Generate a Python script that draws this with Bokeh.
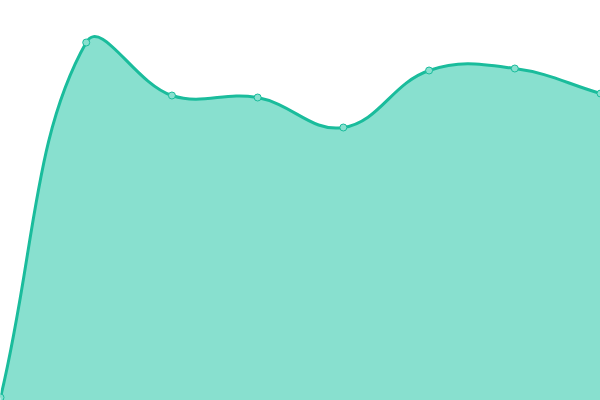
import numpy as np
from bokeh.plotting import figure
from bokeh.models import Range1d
from bokeh.embed import file_html
from bokeh.resources import INLINE

# series (value 0 = bottom edge, 400 = top edge)
labels = ["0", "1", "2", "3", "4", "5", "6", "7"]
values = [3, 358, 305, 303, 273, 330, 332, 307]

W, H = 600, 400
TENSION = 0.4
line_color = "#1abc9c"
fill_color = "#88e0cf"

xs = list(range(len(values)))
p = figure(width=W, height=H, x_range=Range1d(0, len(values) - 1), y_range=Range1d(0, 400),
           output_backend="svg", toolbar_location=None, min_border=0)
p.axis.visible = False
p.grid.visible = False
p.outline_line_color = None

# spline control points (chart.js style), worked out in pixel space
sx = W / (len(values) - 1)
sy = H / 400.0
px = np.array(xs, float) * sx
py = np.array(values, float) * sy
n = len(px)
c_prev = []
c_next = []
for i in range(n):
    a = max(i - 1, 0)
    b = min(i + 1, n - 1)
    d01 = np.hypot(px[i] - px[a], py[i] - py[a])
    d12 = np.hypot(px[b] - px[i], py[b] - py[i])
    tot = d01 + d12
    s01 = d01 / tot if tot else 0
    s12 = d12 / tot if tot else 0
    dx, dy = px[b] - px[a], py[b] - py[a]
    c_prev.append((px[i] - TENSION * s01 * dx, py[i] - TENSION * s01 * dy))
    c_next.append((px[i] + TENSION * s12 * dx, py[i] + TENSION * s12 * dy))

x0 = px[:-1] / sx
y0 = py[:-1] / sy
x1 = px[1:] / sx
y1 = py[1:] / sy
cx0 = np.array([c[0] for c in c_next[:-1]]) / sx
cy0 = np.array([c[1] for c in c_next[:-1]]) / sy
cx1 = np.array([c[0] for c in c_prev[1:]]) / sx
cy1 = np.array([c[1] for c in c_prev[1:]]) / sy

# area under the curve: trace the same bezier segments for the patch outline
t = np.linspace(0, 1, 40)[:, None]
bx = ((1 - t) ** 3 * x0 + 3 * (1 - t) ** 2 * t * cx0 + 3 * (1 - t) * t ** 2 * cx1 + t ** 3 * x1).T.ravel()
by = ((1 - t) ** 3 * y0 + 3 * (1 - t) ** 2 * t * cy0 + 3 * (1 - t) * t ** 2 * cy1 + t ** 3 * y1).T.ravel()
p.patch(list(bx) + [xs[-1], xs[0]], list(by) + [0, 0], fill_color=fill_color, line_color=None)

p.bezier(x0=x0, y0=y0, x1=x1, y1=y1, cx0=cx0, cy0=cy0, cx1=cx1, cy1=cy1,
         line_color=line_color, line_width=3)
p.scatter(xs, values, size=7, fill_color=fill_color, line_color=line_color, line_width=1)

open("out.html", "w").write(file_html(p, INLINE))
